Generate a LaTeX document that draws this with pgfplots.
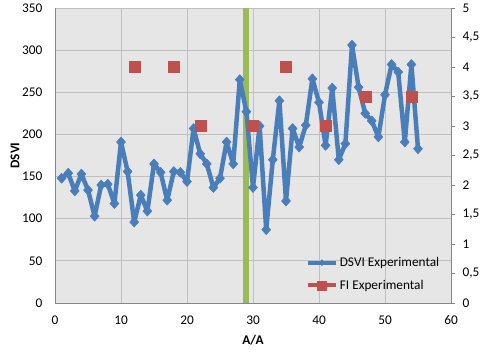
\documentclass[border=0pt]{standalone}
\usepackage{pgfplots}
\pgfplotsset{compat=1.18}
\usepackage{fontspec}
\setmainfont{Carlito}
\definecolor{dblue}{HTML}{4A7EBB}
\definecolor{dred}{HTML}{C0504D}
\definecolor{dgreen}{HTML}{9BBB59}
\definecolor{bggray}{HTML}{E6E6E6}
\definecolor{grid}{HTML}{868686}
\begin{document}
\begin{tikzpicture}[x=1pt,y=1pt]
\pgfplotsset{every axis/.append style={
  scale only axis, width=396pt, height=295pt,
  at={(55pt,49pt)}, anchor=south west,
  xmin=0, xmax=60,
  tick label style={font=\fontsize{13.3}{16}\selectfont, text=black},
  label style={font=\fontsize{13.3}{16}\selectfont\bfseries},
  /pgf/number format/assume math mode=true,
}}
\begin{axis}[
  ymin=0, ymax=350,
  xtick={0,10,...,60}, ytick={0,50,...,350},
  axis background/.style={fill=bggray},
  ymajorgrids, major grid style={grid, line width=0.9pt},
  axis line style={grid, line width=0.9pt},
  axis x line*=bottom, axis y line*=left,
  major tick length=0pt,
  xlabel={A/A}, ylabel={DSVI},
  xlabel style={yshift=-4pt},
  ylabel style={yshift=-4pt},
  yticklabel style={xshift=-9pt},
  xticklabel style={yshift=-9pt},
  clip=false,
]
\addplot[draw=dgreen, line width=6pt] coordinates {(29,0) (29,350)};
\addplot[color=dblue, line width=4.5pt, line join=round, mark=diamond*, mark size=5pt,
  mark options={fill=dblue, draw=dblue, line width=0.5pt, xscale=1.2}] coordinates {
(1,148) (2,154) (3,133) (4,153) (5,134) (6,103) (7,140) (8,141) (9,118) (10,191)
(11,156) (12,96) (13,128) (14,109) (15,165) (16,155) (17,122) (18,156) (19,155) (20,144)
(21,207) (22,177) (23,165) (24,137) (25,148) (26,191) (27,165) (28,265) (29,227) (30,137)
(31,210) (32,87) (33,170) (34,240) (35,121) (36,207) (37,185) (38,211) (39,266) (40,238)
(41,187) (42,255) (43,170) (44,189) (45,306) (46,256) (47,225) (48,216) (49,197) (50,247)
(51,283) (52,274) (53,191) (54,283) (55,183)
};
\end{axis}
\begin{axis}[
  ymin=0, ymax=5,
  xtick=\empty, ytick={0,0.5,...,5},
  axis x line=none, axis y line*=right,
  axis line style={grid, line width=0.9pt},
  ytick style={grid, line width=0.9pt},
  major tick length=4pt, tick align=outside,
  yticklabel style={xshift=4pt, /pgf/number format/.cd, use comma, fixed},
  legend style={at={(axis cs:38.0,0.17)}, anchor=south west, draw=none, fill=none,
    font=\fontsize{13.3}{16}\selectfont, row sep=8pt, inner sep=0pt,
    /tikz/every even column/.append style={column sep=1pt}},
  legend cell align=left,
  legend image code/.code={
    \draw[#1, mark repeat=2, mark phase=2] plot coordinates {(0pt,0pt) (14pt,0pt) (28pt,0pt)};},
]
\addlegendimage{color=dblue, line width=3.8pt, mark=diamond*, mark size=3pt, mark options={line width=0.5pt}}
\addlegendentry{DSVI Experimental}
\addlegendimage{color=dred, line width=3.8pt, mark=square*, mark size=4.5pt, mark options={line width=0.5pt}}
\addlegendentry{FI Experimental}
\addplot[only marks, mark=square*, mark size=5.5pt, color=dred, mark options={draw=none, fill=dred}, forget plot]
 coordinates {(12,4) (18,4) (22,3) (30,3) (35,4) (41,3) (47,3.5) (54,3.5)};
\end{axis}
\pgfresetboundingbox
\useasboundingbox (0,0) rectangle (492pt,352pt);
\end{tikzpicture}
\end{document}
